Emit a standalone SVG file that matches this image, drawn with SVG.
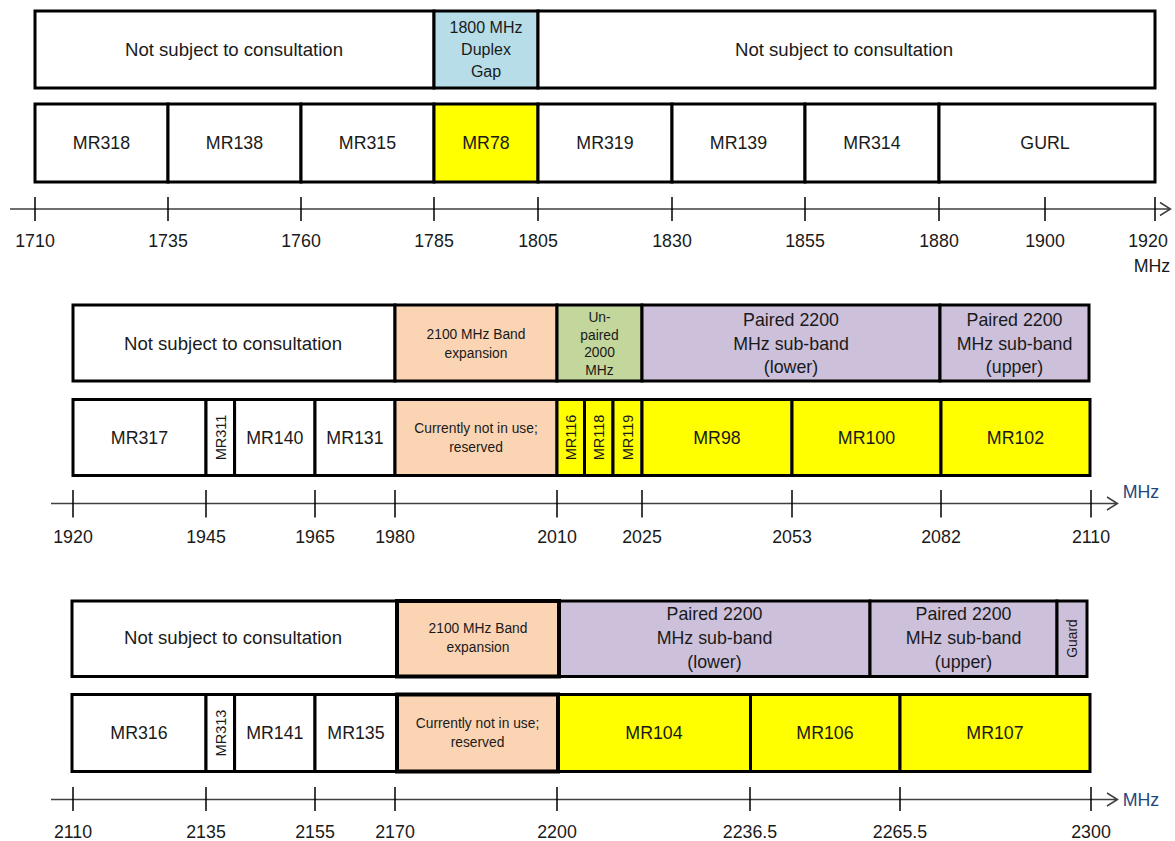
<svg xmlns="http://www.w3.org/2000/svg" width="1175" height="841" viewBox="0 0 1175 841">
<style>
.c{stroke:#000;stroke-width:3}
.w{fill:#fff}
.y{fill:#ffff00}
.b{fill:#b7dde8}
.p{fill:#fbd4b4}
.g{fill:#c3d69b}
.l{fill:#ccc0da}
text{font-family:"Liberation Sans",Arial,sans-serif;fill:#1a1a1a;text-anchor:middle}
.t{font-size:17.8px}
.n{font-size:18.6px}
.m{font-size:16px}
.s{font-size:13.8px}
.u{font-size:13.8px}
.r{font-size:14.5px}
.hz{fill:#1f497d}
.ax{stroke:#404040;stroke-width:1.5;fill:none}
.tk{stroke:#000;stroke-width:1.5}
</style>
<rect width="1175" height="841" fill="#fff"/>

<!-- Section 1 -->
<g id="n-nsc1a"><rect class="c w" x="35" y="11" width="399" height="77"/><text class="n" x="234" y="55.5">Not subject to consultation</text></g>
<g id="n-duplex"><rect class="c b" x="434" y="11" width="104" height="77"/><text class="m" x="486" y="33">1800 MHz</text><text class="m" x="486" y="55">Duplex</text><text class="m" x="486" y="77">Gap</text></g>
<g id="n-nsc1b"><rect class="c w" x="538" y="11" width="617" height="77"/><text class="n" x="844" y="55.5">Not subject to consultation</text></g>

<g id="n-mr318"><rect class="c w" x="35" y="104" width="133" height="78"/><text class="t" x="101.5" y="149">MR318</text></g>
<g id="n-mr138"><rect class="c w" x="168" y="104" width="133" height="78"/><text class="t" x="234.5" y="149">MR138</text></g>
<g id="n-mr315"><rect class="c w" x="301" y="104" width="133" height="78"/><text class="t" x="367.5" y="149">MR315</text></g>
<g id="n-mr78"><rect class="c y" x="434" y="104" width="104" height="78"/><text class="t" x="486" y="149">MR78</text></g>
<g id="n-mr319"><rect class="c w" x="538" y="104" width="134" height="78"/><text class="t" x="605" y="149">MR319</text></g>
<g id="n-mr139"><rect class="c w" x="672" y="104" width="133" height="78"/><text class="t" x="738.5" y="149">MR139</text></g>
<g id="n-mr314"><rect class="c w" x="805" y="104" width="134" height="78"/><text class="t" x="872" y="149">MR314</text></g>
<g id="n-gurl"><rect class="c w" x="939" y="104" width="216" height="78"/><text class="t" x="1045" y="149">GURL</text></g>

<!-- Section 2 -->
<g id="n-nsc2"><rect class="c w" x="73" y="305" width="322" height="76"/><text class="n" x="233" y="350">Not subject to consultation</text></g>
<g id="n-exp2"><rect class="c p" x="395" y="305" width="162" height="76"/><text class="s" x="476" y="339">2100 MHz Band</text><text class="s" x="476" y="358">expansion</text></g>
<g id="n-unpaired"><rect class="c g" x="557" y="305" width="85" height="76"/><text class="u" x="599.5" y="321.5">Un-</text><text class="u" x="599.5" y="339.5">paired</text><text class="u" x="599.5" y="357">2000</text><text class="u" x="599.5" y="375">MHz</text></g>
<g id="n-lower2"><rect class="c l" x="642" y="305" width="298" height="76"/><text class="t" x="791" y="326">Paired 2200</text><text class="t" x="791" y="349.5">MHz sub-band</text><text class="t" x="791" y="373">(lower)</text></g>
<g id="n-upper2"><rect class="c l" x="940" y="305" width="149" height="76"/><text class="t" x="1014.5" y="326">Paired 2200</text><text class="t" x="1014.5" y="349.5">MHz sub-band</text><text class="t" x="1014.5" y="373">(upper)</text></g>

<g id="n-mr317"><rect class="c w" x="73" y="399.5" width="133" height="76"/><text class="t" x="139.5" y="443.5">MR317</text></g>
<g id="n-mr311"><rect class="c w" x="206" y="399.5" width="28.6" height="76"/><text class="r" transform="translate(225.5 437.5) rotate(-90)" x="0" y="0">MR311</text></g>
<g id="n-mr140"><rect class="c w" x="234.6" y="399.5" width="80.4" height="76"/><text class="t" x="274.8" y="443.5">MR140</text></g>
<g id="n-mr131"><rect class="c w" x="315" y="399.5" width="80" height="76"/><text class="t" x="355" y="443.5">MR131</text></g>
<g id="n-res2"><rect class="c p" x="395" y="399.5" width="162" height="76"/><text class="s" x="476" y="433">Currently not in use;</text><text class="s" x="476" y="452">reserved</text></g>
<g id="n-mr116"><rect class="c y" x="557" y="399.5" width="27.5" height="76"/><text class="r" transform="translate(576 437.5) rotate(-90)" x="0" y="0">MR116</text></g>
<g id="n-mr118"><rect class="c y" x="584.5" y="399.5" width="28.5" height="76"/><text class="r" transform="translate(604 437.5) rotate(-90)" x="0" y="0">MR118</text></g>
<g id="n-mr119"><rect class="c y" x="613" y="399.5" width="29" height="76"/><text class="r" transform="translate(632.5 437.5) rotate(-90)" x="0" y="0">MR119</text></g>
<g id="n-mr98"><rect class="c y" x="642" y="399.5" width="150" height="76"/><text class="t" x="717" y="443.5">MR98</text></g>
<g id="n-mr100"><rect class="c y" x="792" y="399.5" width="149" height="76"/><text class="t" x="866.5" y="443.5">MR100</text></g>
<g id="n-mr102"><rect class="c y" x="941" y="399.5" width="149" height="76"/><text class="t" x="1015.5" y="443.5">MR102</text></g>

<!-- Section 3 -->
<g id="n-nsc3"><rect class="c w" x="72" y="601" width="325" height="75.5"/><text class="n" x="233" y="644">Not subject to consultation</text></g>
<g id="n-lower3"><rect class="c l" x="559" y="601" width="311" height="75.5"/><text class="t" x="714.5" y="620">Paired 2200</text><text class="t" x="714.5" y="644">MHz sub-band</text><text class="t" x="714.5" y="668">(lower)</text></g>
<g id="n-upper3"><rect class="c l" x="870" y="601" width="187" height="75.5"/><text class="t" x="963.5" y="620">Paired 2200</text><text class="t" x="963.5" y="644">MHz sub-band</text><text class="t" x="963.5" y="668">(upper)</text></g>
<g id="n-guard"><rect class="c l" x="1057" y="601" width="30" height="75.5"/><text class="s" transform="translate(1076.5 638.5) rotate(-90)" x="0" y="0">Guard</text></g>
<g id="n-exp3"><rect class="p" x="397" y="601" width="162" height="75.5" stroke="#000" stroke-width="4"/><text class="s" x="478" y="633">2100 MHz Band</text><text class="s" x="478" y="652">expansion</text></g>

<g id="n-mr316"><rect class="c w" x="72" y="694.5" width="134" height="77"/><text class="t" x="139" y="738.5">MR316</text></g>
<g id="n-mr313"><rect class="c w" x="206" y="694.5" width="28.6" height="77"/><text class="r" transform="translate(225.5 733) rotate(-90)" x="0" y="0">MR313</text></g>
<g id="n-mr141"><rect class="c w" x="234.6" y="694.5" width="80.4" height="77"/><text class="t" x="274.8" y="738.5">MR141</text></g>
<g id="n-mr135"><rect class="c w" x="315" y="694.5" width="82" height="77"/><text class="t" x="356" y="738.5">MR135</text></g>
<g id="n-mr104"><rect class="c y" x="558" y="694.5" width="192.5" height="77"/><text class="t" x="654" y="738.5">MR104</text></g>
<g id="n-mr106"><rect class="c y" x="750.5" y="694.5" width="149.5" height="77"/><text class="t" x="825" y="738.5">MR106</text></g>
<g id="n-mr107"><rect class="c y" x="900" y="694.5" width="190" height="77"/><text class="t" x="995" y="738.5">MR107</text></g>
<g id="n-res3"><rect class="p" x="397" y="694.5" width="161" height="77" stroke="#000" stroke-width="4"/><text class="s" x="477.5" y="728">Currently  not in use;</text><text class="s" x="477.5" y="747">reserved</text></g>

<!-- Axes -->
<g id="connectors">
<g id="axis1">
<path class="ax" d="M10 209H1170M1160 202.5L1170.5 209L1160 215.5"/>
<path class="tk" d="M35 197V221M168 197V221M301 197V221M434 197V221M538 197V221M672 197V221M805 197V221M939 197V221M1045 197V221M1155 197V221"/>
</g>
<g id="axis2">
<path class="ax" d="M51 503.5H1117M1107 497L1117.5 503.5L1107 510"/>
<path class="tk" d="M73 490V517.5M206 490V517.5M315 490V517.5M395 490V517.5M557 490V517.5M642 490V517.5M792 490V517.5M941 490V517.5M1091 490V517.5"/>
</g>
<g id="axis3">
<path class="ax" d="M51 799.5H1117M1107 793L1117.5 799.5L1107 806"/>
<path class="tk" d="M73 787V811M206 787V811M315 787V811M395 787V811M557 787V811M750 787V811M900 787V811M1091 787V811"/>
</g>
</g>

<g id="labels1">
<text class="t" x="35" y="247">1710</text>
<text class="t" x="168" y="247">1735</text>
<text class="t" x="301" y="247">1760</text>
<text class="t" x="434" y="247">1785</text>
<text class="t" x="538" y="247">1805</text>
<text class="t" x="672" y="247">1830</text>
<text class="t" x="805" y="247">1855</text>
<text class="t" x="939" y="247">1880</text>
<text class="t" x="1045" y="247">1900</text>
<text class="t" x="1148" y="247">1920</text>
<text class="t" x="1152" y="272">MHz</text>
</g>
<g id="labels2">
<text class="t" x="73" y="542.5">1920</text>
<text class="t" x="206" y="542.5">1945</text>
<text class="t" x="315" y="542.5">1965</text>
<text class="t" x="395" y="542.5">1980</text>
<text class="t" x="557" y="542.5">2010</text>
<text class="t" x="642" y="542.5">2025</text>
<text class="t" x="792" y="542.5">2053</text>
<text class="t" x="941" y="542.5">2082</text>
<text class="t" x="1091" y="542.5">2110</text>
<text class="t hz" x="1141" y="498">MHz</text>
</g>
<g id="labels3">
<text class="t" x="73" y="837.5">2110</text>
<text class="t" x="206" y="837.5">2135</text>
<text class="t" x="315" y="837.5">2155</text>
<text class="t" x="395" y="837.5">2170</text>
<text class="t" x="557" y="837.5">2200</text>
<text class="t" x="750" y="837.5">2236.5</text>
<text class="t" x="900" y="837.5">2265.5</text>
<text class="t" x="1091" y="837.5">2300</text>
<text class="t hz" x="1141" y="805.5">MHz</text>
</g>
</svg>
